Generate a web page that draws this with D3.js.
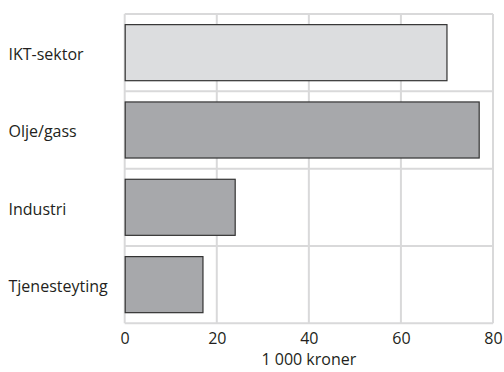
<!DOCTYPE html>
<html><head><meta charset="utf-8">
<script src="https://cdn.jsdelivr.net/npm/d3@7"></script>
<style>body{margin:0;background:#fff}svg{display:block}text{font-family:"Open Sans",sans-serif;font-weight:400;fill:#231f20}</style>
</head><body><svg id="c" width="504" height="372"></svg>
<script>
const categories = ["IKT-sektor", "Olje/gass", "Industri", "Tjenesteyting"];
const values = [70, 77, 24, 17];
const barFills = ["#dcdddf", "#a7a8ab", "#a7a8ab", "#a7a8ab"];
const xTicks = [0, 20, 40, 60, 80];
const xTitle = "1 000 kroner";

const svg = d3.select("#c");
const L = 124.7, R = 493, T = 14, B = 323.3;
const x = d3.scaleLinear().domain([0, 80]).range([L, R]);
const y = d3.scaleBand().domain(categories).range([T, B]).paddingInner(0.275).paddingOuter(0.1375);

const grid = "#d9d9da";
svg.append("g").selectAll("line").data(xTicks).join("line")
  .attr("x1", d => x(d)).attr("x2", d => x(d)).attr("y1", T).attr("y2", B)
  .attr("stroke", grid).attr("stroke-width", 2);
const bounds = d3.range(categories.length + 1).map(i => T + i * (B - T) / categories.length);
svg.append("g").selectAll("line").data(bounds).join("line")
  .attr("x1", L).attr("x2", R).attr("y1", d => d).attr("y2", d => d)
  .attr("stroke", grid).attr("stroke-width", 2);

svg.append("g").selectAll("rect").data(categories).join("rect")
  .attr("x", x(0) + 0.5)
  .attr("y", d => y(d))
  .attr("width", (d, i) => x(values[i]) - x(0) - 0.5)
  .attr("height", y.bandwidth())
  .attr("fill", (d, i) => barFills[i])
  .attr("stroke", "#333")
  .attr("stroke-width", 1.2);

svg.append("g").selectAll("text").data(categories).join("text")
  .attr("x", 8.5).attr("y", d => y(d) + y.bandwidth() / 2)
  .attr("dy", "0.45em").attr("font-size", 16).text(d => d);

const xAxis = d3.axisBottom(x).tickValues(xTicks).tickSize(0).tickPadding(0).tickFormat(d3.format("d"));
const ga = svg.append("g").attr("transform", `translate(0,${B})`).call(xAxis);
ga.select(".domain").remove();
ga.selectAll("text").attr("font-size", 16).attr("y", 20.5).attr("dy", 0)
  .style("font-family", '"Open Sans",sans-serif').attr("fill", "#231f20");

svg.append("text").attr("x", (L + R) / 2).attr("y", 365).attr("text-anchor", "middle")
  .attr("font-size", 16).text(xTitle);
</script></body></html>
